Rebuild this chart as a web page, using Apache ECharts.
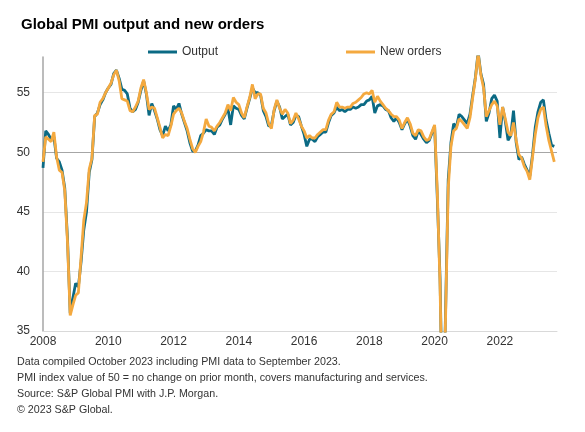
<!DOCTYPE html>
<html>
<head>
<meta charset="utf-8">
<script src="https://cdn.jsdelivr.net/npm/echarts@6/dist/echarts.min.js"></script>
<style>
  html, body { margin: 0; padding: 0; background: #fff; }
  #container { width: 585px; height: 432px; }
</style>
</head>
<body>
<div id="container"></div>
<script>
  // monthly, Jan 2008 .. Sep 2023
  var output = [
    48.7, 51.8, 51.5, 51.1, 51.3, 49.5, 49.2, 48.5, 47.0, 42.8, 36.5, 37.8,
    39.0, 38.7, 40.8, 43.5, 45.0, 48.3, 49.4, 53.0, 53.3, 54.0, 54.4, 55.0,
    55.4, 55.7, 56.6, 56.9, 56.2, 55.3, 55.2, 54.9, 53.7, 53.4, 53.6, 54.2,
    55.2, 56.0, 54.9, 53.1, 54.1, 53.5, 52.8, 51.9, 51.4, 52.2, 51.8, 52.3,
    53.9, 53.6, 54.1, 53.2, 52.5, 51.8, 50.8, 50.1, 50.1, 50.6, 51.4, 51.6,
    51.9, 51.8, 51.8, 51.5, 52.1, 52.3, 52.8, 53.2, 53.7, 52.3, 53.9, 53.7,
    53.6, 53.1, 52.8, 53.7, 54.5, 55.4, 55.0, 55.0, 54.8, 53.5, 53.0, 52.2,
    52.3, 53.5, 54.3, 53.8, 52.8, 53.0, 53.2, 52.3, 52.5, 53.1, 53.0, 52.2,
    51.5, 50.5, 51.1, 51.1, 50.9, 51.3, 51.5, 51.7, 51.7, 52.5, 53.1, 53.3,
    53.8, 53.5, 53.6, 53.4, 53.6, 53.6, 53.8, 53.7, 53.8, 54.0, 54.0, 54.3,
    54.4, 54.7, 53.3, 53.9, 54.0, 53.9, 53.6, 53.5, 52.9, 52.6, 52.9, 52.5,
    51.9, 52.4, 52.8, 52.2, 51.4, 51.1, 51.8, 51.5, 51.1, 50.8, 51.0, 51.6,
    52.2, 46.1, 39.4, 26.2, 36.3, 47.7, 50.8, 52.4, 52.1, 53.2, 53.0, 52.7,
    52.4, 53.2, 54.8, 56.3, 58.4, 56.6, 55.7, 52.6, 53.3, 54.5, 54.8, 54.3,
    51.2, 53.8, 52.6, 51.0, 51.4, 53.5, 50.8, 49.4, 49.6, 49.0, 48.5, 48.0,
    49.8, 52.1, 53.4, 54.2, 54.4, 52.7, 51.6, 50.6, 50.5
  ];
  var newOrders = [
    49.2, 51.3, 51.1, 50.9, 51.7, 49.6, 48.5, 48.3, 46.8, 42.5, 36.3, 37.2,
    38.0, 38.2, 41.2, 44.3, 45.8, 48.6, 49.5, 53.1, 53.2, 54.2, 54.5, 55.0,
    55.4, 55.8, 56.5, 56.9, 56.0, 54.5, 54.4, 54.3, 53.5, 53.4, 53.8, 54.3,
    55.4, 56.1, 55.0, 53.6, 53.8, 53.7, 52.9, 52.1, 51.2, 51.5, 51.4, 52.2,
    53.2, 53.5, 53.7, 53.3, 52.6, 52.0, 51.1, 50.3, 50.0, 50.5, 50.9, 51.7,
    52.8, 52.2, 52.1, 51.8, 52.2, 52.5, 52.9, 53.3, 54.0, 53.5, 54.6, 54.2,
    54.0, 53.3, 52.9, 53.8, 54.6, 55.7, 54.5, 54.9, 54.9, 53.7, 53.3, 52.4,
    52.0, 53.6, 54.4, 53.7, 53.2, 53.6, 53.3, 52.4, 52.7, 53.3, 52.8, 52.2,
    51.8, 51.2, 51.4, 51.2, 51.2, 51.5, 51.7, 51.9, 51.9, 52.7, 53.2, 53.4,
    54.2, 53.8, 53.8, 53.7, 53.8, 53.8, 54.1, 54.2, 54.4, 54.6, 54.9, 55.0,
    54.9, 55.2, 54.2, 54.7, 54.3, 54.0, 53.7, 53.5, 53.2, 53.0, 53.0, 52.7,
    52.0, 52.5, 52.9, 52.4, 51.6, 51.4, 51.9, 51.8, 51.3, 51.0, 51.1, 51.7,
    52.3, 46.6, 38.8, 26.3, 35.8, 47.0, 50.5, 51.8, 52.0, 52.8, 52.6, 52.3,
    52.0, 52.9, 54.6, 56.2, 58.3, 56.5, 55.4, 53.0, 53.5, 54.0, 54.3, 53.9,
    52.3, 53.8, 52.8, 51.7, 51.4, 52.5, 51.0, 49.8, 49.5, 48.8, 48.4, 47.7,
    49.6, 51.5, 52.9, 53.6, 53.8, 52.2, 51.0, 50.1, 49.2
  ];
  var tickYears = ['2008', '2010', '2012', '2014', '2016', '2018', '2020', '2022'];
  var footnotes = [
    'Data compiled October 2023 including PMI data to September 2023.',
    'PMI index value of 50 = no change on prior month, covers manufacturing and services.',
    'Source: S&P Global PMI with J.P. Morgan.',
    '\u00a9 2023 S&P Global.'
  ];

  // x = month index from Jan 2008
  function toPairs(arr) {
    return arr.map(function (v, i) { return [i, v]; });
  }

  var dom = document.getElementById("container");
  var myChart = echarts.init(dom, null, { renderer: 'canvas' });
  var option = null;

  option = {
    animation: false,
    backgroundColor: '#fff',
    textStyle: { fontFamily: 'Liberation Sans, Arial, sans-serif' },

    //标题
    title: {
      text: 'Global PMI output and new orders',
      left: 16,
      top: 12,
      textStyle: { fontSize: 15, fontWeight: 'bold', color: '#000' }
    },
    legend: {
      data: ['Output', 'New orders'],
      left: 143,
      top: 41,
      icon: 'rect',
      itemWidth: 29,
      itemHeight: 3,
      itemGap: 128,
      textStyle: { fontSize: 12, color: '#333' }
    },
    grid: { left: 43, right: 28, top: 57, bottom: 101, containLabel: false },

    //x轴设置
    xAxis: {
      type: 'value',
      min: 0,
      max: 189,
      interval: 24,
      axisLine: { show: true, lineStyle: { color: '#d9d9d9', width: 1 } },
      axisTick: { show: false },
      splitLine: { show: false },
      axisLabel: {
        color: '#333',
        fontSize: 12,
        margin: 5,
        showMaxLabel: false,
        formatter: function (v) {
          return v % 24 === 0 ? (tickYears[v / 24] || '') : '';
        }
      }
    },
    yAxis: {
      type: 'value',
      min: 35,
      max: 58,
      interval: 5,
      axisLine: { show: true, lineStyle: { color: '#a6a6a6', width: 1.5 } },
      axisTick: { show: false },
      axisLabel: {
        color: '#333',
        fontSize: 12,
        margin: 13,
        showMaxLabel: false,
        formatter: function (v) { return v % 5 === 0 ? String(v) : ''; }
      },
      splitLine: {
        show: true,
        showMinLine: false,
        showMaxLine: false,
        lineStyle: { color: ['#e6e6e6', '#e6e6e6', '#a6a6a6', '#e6e6e6'], width: 1 }
      }
    },
    graphic: [{
      type: 'text',
      left: 17,
      top: 354,
      style: {
        text: footnotes.join('\n'),
        font: '10.7px "Liberation Sans", Arial, sans-serif',
        lineHeight: 16,
        fill: '#333'
      }
    }],
    series: [
      {
        name: 'Output',
        type: 'line',
        data: toPairs(output),
        showSymbol: false,
        symbol: 'none',
        clip: true,
        color: '#0b6a84',
        lineStyle: { color: '#0b6a84', width: 2.8 }
      },
      {
        name: 'New orders',
        type: 'line',
        data: toPairs(newOrders),
        showSymbol: false,
        symbol: 'none',
        clip: true,
        color: '#f4a93f',
        lineStyle: { color: '#f4a93f', width: 2.8 }
      }
    ]
  };
  if (option && typeof option === "object") {
    myChart.setOption(option, true);
  }
</script>
</body>
</html>
